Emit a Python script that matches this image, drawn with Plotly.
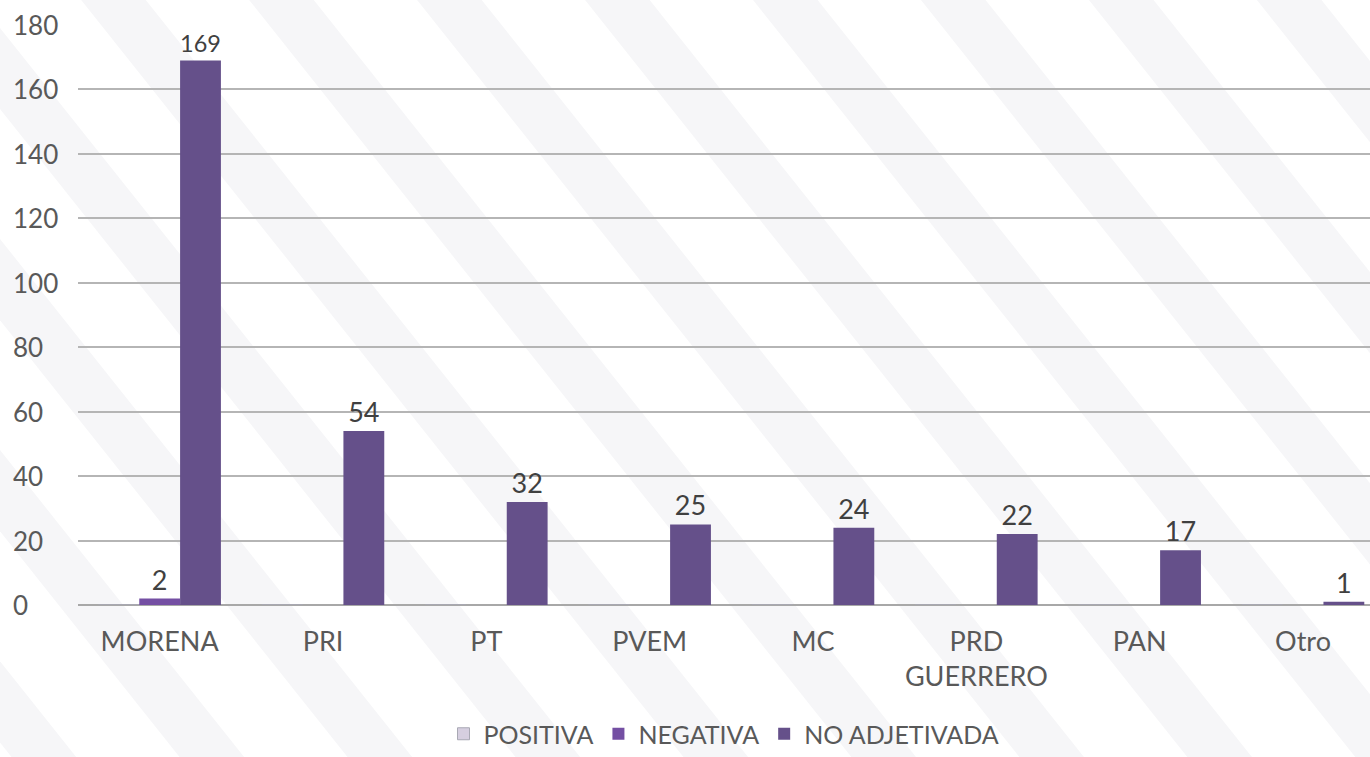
import plotly.graph_objects as go

categories = ["MORENA", "PRI", "PT", "PVEM", "MC", "PRD<br>GUERRERO", "PAN", "Otro"]
positiva = [0, 0, 0, 0, 0, 0, 0, 0]
negativa = [2, 0, 0, 0, 0, 0, 0, 0]
no_adjetivada = [169, 54, 32, 25, 24, 22, 17, 1]
y_ticks = [0, 20, 40, 60, 80, 100, 120, 140, 160, 180]

def labels(vals):
    return [str(v) if v else "" for v in vals]

font_family = "Lato, 'Open Sans', sans-serif"
txt_color = "#595959"

fig = go.Figure()
fig.add_trace(go.Bar(name="POSITIVA", x=categories, y=positiva, text=labels(positiva),
                     marker=dict(color="#d6cfe0", line=dict(color="#a9a9b4", width=1))))
fig.add_trace(go.Bar(name="NEGATIVA", x=categories, y=negativa, text=labels(negativa),
                     marker=dict(color="#744fa3", line=dict(width=0))))
fig.add_trace(go.Bar(name="NO ADJETIVADA", x=categories, y=no_adjetivada, text=labels(no_adjetivada),
                     marker=dict(color="#65508a", line=dict(width=0))))
fig.update_traces(textposition="outside", cliponaxis=False,
                  textfont=dict(size=27, color="#404040", family=font_family))

# light decorative diagonal stripes in the background
shapes = []
for i in range(-6, 12):
    x0 = i * 0.13
    shapes.append(dict(type="path", xref="paper", yref="paper", layer="below",
                       path=f"M {x0} 1.05 L {x0+0.05} 1.05 L {x0+0.55} -0.35 L {x0+0.50} -0.35 Z",
                       fillcolor="#f6f6f8", line=dict(width=0)))

# left-aligned y tick labels
annotations = [dict(xref="paper", yref="y", x=0, y=v, xanchor="left", yanchor="middle",
                    xshift=-67, text=str(v), showarrow=False,
                    font=dict(size=26, color=txt_color, family=font_family))
               for v in y_ticks]

fig.update_layout(
    width=1370, height=757,
    margin=dict(l=78, r=0, t=25, b=152, autoexpand=False),
    paper_bgcolor="white", plot_bgcolor="rgba(0,0,0,0)",
    barmode="group", bargap=0.25, bargroupgap=0,
    font=dict(family=font_family, color=txt_color, size=26),
    shapes=shapes,
    annotations=annotations,
    showlegend=True,
    legend=dict(orientation="h", x=0.5, xanchor="center",
                yref="container", y=0, yanchor="bottom",
                font=dict(size=25, color=txt_color), itemwidth=30, traceorder="normal",
                bgcolor="rgba(0,0,0,0)"),
    xaxis=dict(range=[-0.5, 7.41], showgrid=False, ticks="", showline=False, automargin=False,
               tickfont=dict(size=27, color=txt_color), ticklabelstandoff=18),
    yaxis=dict(range=[0, 180], tickvals=y_ticks, showticklabels=False, automargin=False,
               showgrid=True, gridcolor="#b5b5b5", gridwidth=2,
               zeroline=True, zerolinecolor="#a8a8a8", zerolinewidth=2),
)

fig.write_html("out.html", config={"displayModeBar": False},
               post_script="document.body.style.margin='0';")
